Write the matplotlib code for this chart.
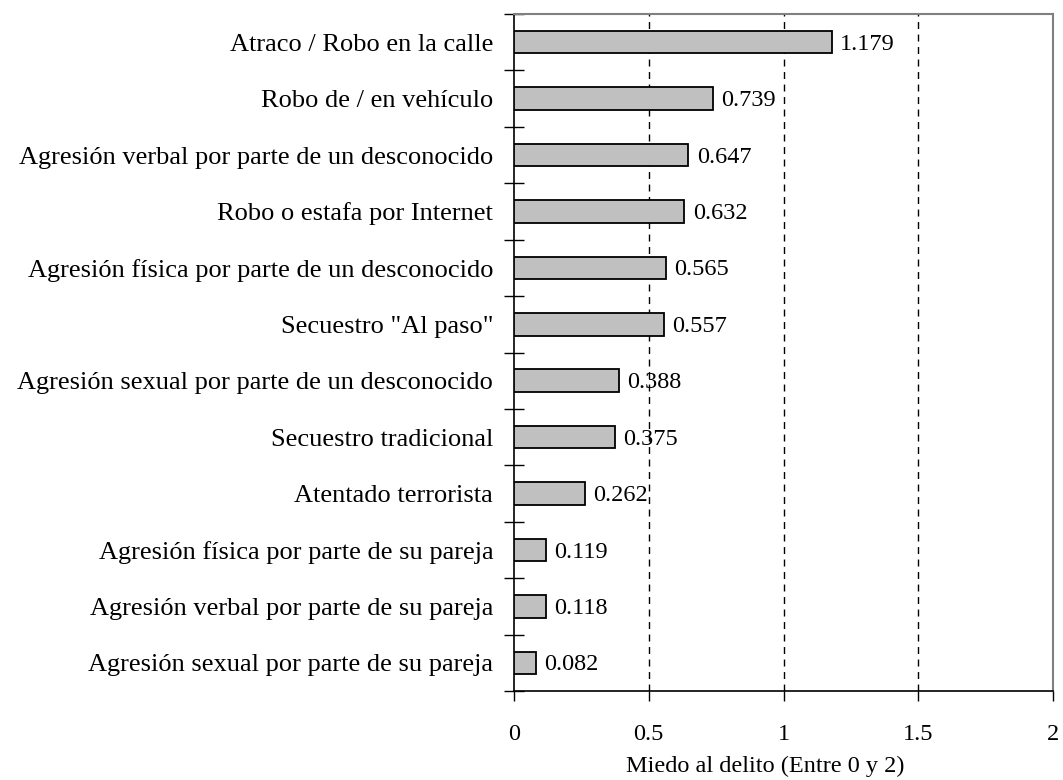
import matplotlib.pyplot as plt
import numpy as np

categorias = [
    "Atraco / Robo en la calle",
    "Robo de / en vehículo",
    "Agresión verbal por parte de un desconocido",
    "Robo o estafa por Internet",
    "Agresión física por parte de un desconocido",
    'Secuestro "Al paso"',
    "Agresión sexual por parte de un desconocido",
    "Secuestro tradicional",
    "Atentado terrorista",
    "Agresión física por parte de su pareja",
    "Agresión verbal por parte de su pareja",
    "Agresión sexual por parte de su pareja",
]
valores = [1.179, 0.739, 0.647, 0.632, 0.565, 0.557, 0.388, 0.375, 0.262, 0.119, 0.118, 0.082]
etiquetas = ["1.179", "0.739", "0.647", "0.632", "0.565", "0.557", "0.388", "0.375", "0.262", "0.119", "0.118", "0.082"]
xticks = [0, 0.5, 1, 1.5, 2]
xtick_labels = ["0", "0.5", "1", "1.5", "2"]

plt.rcParams["font.family"] = ["Liberation Serif", "DejaVu Serif"]
fs = 17.5

fig = plt.figure(figsize=(10.63, 7.8), dpi=100)
ax = fig.add_axes([514 / 1063, 1 - 691 / 780, (1053 - 514) / 1063, (691 - 14) / 780])

n = len(categorias)
y = np.arange(n)
ax.barh(y, valores, height=0.4, color="#c0c0c0", edgecolor="black", linewidth=1.3, zorder=3)

# etiquetas de valor a la derecha de cada barra
for yi, v, lab in zip(y, valores, etiquetas):
    ax.annotate(lab, (v, yi), xytext=(6, -1.5), textcoords="offset points",
                va="center", ha="left", fontsize=fs, zorder=4)

for gx in xticks[1:-1]:
    ax.axvline(gx, color="black", linestyle=(0, (5, 4)), linewidth=1, zorder=1)

ax.set_xlim(0, 2)
ax.set_ylim(n - 0.5, -0.5)
ax.set_xticks(xticks)
ax.set_xticklabels(xtick_labels, fontsize=fs)
ax.tick_params(axis="x", direction="out", length=7, width=1, pad=17)

ax.set_yticks(y)
ax.set_yticklabels(categorias, fontsize=19)
ax.tick_params(axis="y", which="major", length=0, pad=15)
ax.set_yticks(np.arange(-0.5, n, 1), minor=True)
ax.tick_params(axis="y", which="minor", direction="inout", length=14, width=1)

ax.spines["left"].set_linewidth(1.2)
ax.spines["bottom"].set_linewidth(1.2)
for s in ["top", "right"]:
    ax.spines[s].set_color("#808080")
    ax.spines[s].set_linewidth(1.5)

ax.set_xlabel("Miedo al delito (Entre 0 y 2)", fontsize=fs)
ax.xaxis.set_label_coords(0.466, -0.095)

fig.savefig("out.png", dpi=100)
